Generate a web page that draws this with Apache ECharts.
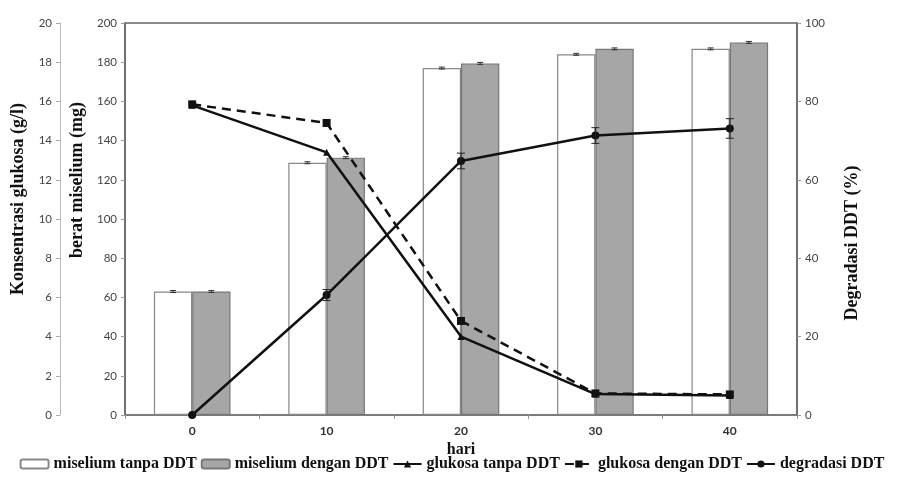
<!DOCTYPE html>
<html>
<head>
<meta charset="utf-8">
<script src="https://cdn.jsdelivr.net/npm/echarts@6/dist/echarts.min.js"></script>
<style>html,body{margin:0;padding:0;background:#fff}#c{width:904px;height:477px}</style>
</head>
<body>
<div id="c"></div>
<script>
var days = ['0', '10', '20', '30', '40'];
var miseliumTanpa = [63, 128.7, 177, 184, 186.8];
var miseliumDengan = [63, 131.3, 179.4, 186.8, 190.1];
var miseliumTanpaErr = [0.5, 0.5, 0.5, 0.5, 0.5];
var miseliumDenganErr = [0.5, 0.5, 0.5, 0.5, 0.5];
var glukosaTanpa = [15.8, 13.4, 4.0, 1.07, 1.0];
var glukosaDengan = [15.85, 14.9, 4.8, 1.1, 1.05];
var degradasi = [0, 30.6, 64.8, 71.3, 73.1];
var degradasiErr = [0, 1.4, 2.0, 2.0, 2.5];
var mgTicks = {min: 0, max: 200, interval: 20};
var gTicks = {min: 0, max: 20, interval: 2};
var pTicks = {min: 0, max: 100, interval: 20};

var serif = 'Liberation Serif';
var sans = 'Lato';
var catGap = 0.43;

function barErr(sign, vals, errs) {
  return {
    type: 'custom',
    yAxisIndex: 0,
    z: 5,
    silent: true,
    data: vals.map(function (v, i) { return [i, v, errs[i]]; }),
    renderItem: function (params, api) {
      var i = api.value(0), v = api.value(1), e = api.value(2);
      var band = api.size([1, 0])[0];
      var bw = band * (1 - catGap) / 2;
      var c = api.coord([i, v]);
      var x = c[0] + sign * bw / 2;
      var hi = api.coord([i, v + e])[1], lo = api.coord([i, v - e])[1];
      var st = {stroke: '#333', lineWidth: 1};
      return {type: 'group', children: [
        {type: 'line', shape: {x1: x, y1: hi, x2: x, y2: lo}, style: st},
        {type: 'line', shape: {x1: x - 3, y1: hi, x2: x + 3, y2: hi}, style: st},
        {type: 'line', shape: {x1: x - 3, y1: lo, x2: x + 3, y2: lo}, style: st}
      ]};
    }
  };
}

var titleStyle = {fontFamily: serif, fontWeight: 'bold', fontSize: 18, color: '#111'};

var chart = echarts.init(document.getElementById('c'));
chart.setOption({
  animation: false,
  backgroundColor: '#fff',
  grid: {left: 125, right: 107, top: 23, bottom: 62, show: true, borderColor: '#666', borderWidth: 1.5, backgroundColor: 'transparent'},
  legend: {
    bottom: 0, left: 'center', itemGap: 4, itemWidth: 28, itemHeight: 9,
    textStyle: {fontFamily: serif, fontWeight: 'bold', fontSize: 16, color: '#111'},
    data: ['miselium tanpa DDT', 'miselium dengan DDT', 'glukosa tanpa DDT', 'glukosa dengan DDT', 'degradasi DDT']
  },
  xAxis: {
    type: 'category', data: days,
    name: 'hari', nameLocation: 'middle', nameGap: 27,
    nameTextStyle: {fontFamily: serif, fontWeight: 'bold', fontSize: 16, color: '#111'},
    axisLine: {lineStyle: {color: '#777', width: 1.5}},
    axisTick: {show: true, length: 4, lineStyle: {color: '#999'}},
    axisLabel: {fontFamily: sans, fontWeight: 'bold', fontSize: 12, color: '#333', margin: 10}
  },
  yAxis: [
    {
      type: 'value', position: 'left', min: mgTicks.min, max: mgTicks.max, interval: mgTicks.interval,
      name: 'berat miselium (mg)', nameLocation: 'middle', nameGap: 36, nameRotate: 90,
      nameTextStyle: Object.assign({padding: [0, 0, 0, 78]}, titleStyle),
      splitLine: {show: false},
      axisLine: {show: true, lineStyle: {color: '#666', width: 1.5}},
      axisTick: {show: true, length: 4, lineStyle: {color: '#999'}},
      axisLabel: {fontFamily: sans, fontSize: 11.5, color: '#444', margin: 8}
    },
    {
      type: 'value', position: 'left', offset: 65, min: gTicks.min, max: gTicks.max, interval: gTicks.interval,
      name: 'Konsentrasi glukosa (g/l)', nameLocation: 'middle', nameGap: 30, nameRotate: 90,
      nameTextStyle: Object.assign({padding: [0, 0, 0, 40]}, titleStyle),
      splitLine: {show: false},
      axisLine: {show: true, lineStyle: {color: '#bbb', width: 1}},
      axisTick: {show: true, length: 4, lineStyle: {color: '#aaa'}},
      axisLabel: {fontFamily: sans, fontSize: 11.5, color: '#444', margin: 8}
    },
    {
      type: 'value', position: 'right', min: pTicks.min, max: pTicks.max, interval: pTicks.interval,
      name: 'Degradasi DDT (%)', nameLocation: 'middle', nameGap: 46, nameRotate: 90,
      nameTextStyle: Object.assign({padding: [0, 48, 0, 0]}, titleStyle),
      splitLine: {show: false},
      axisLine: {show: true, lineStyle: {color: '#666', width: 1.5}},
      axisTick: {show: true, length: 4, lineStyle: {color: '#999'}},
      axisLabel: {fontFamily: sans, fontSize: 11.5, color: '#444', margin: 8}
    }
  ],
  series: [
    {
      name: 'miselium tanpa DDT', type: 'bar', yAxisIndex: 0, data: miseliumTanpa,
      barGap: '0%', barCategoryGap: (catGap * 100) + '%',
      itemStyle: {color: '#ffffff', borderColor: '#888', borderWidth: 1.2}
    },
    {
      name: 'miselium dengan DDT', type: 'bar', yAxisIndex: 0, data: miseliumDengan,
      barGap: '0%', barCategoryGap: (catGap * 100) + '%',
      itemStyle: {color: '#a6a6a6', borderColor: '#777', borderWidth: 1.2}
    },
    barErr(-1, miseliumTanpa, miseliumTanpaErr),
    barErr(1, miseliumDengan, miseliumDenganErr),
    {
      name: 'glukosa tanpa DDT', type: 'line', yAxisIndex: 1, data: glukosaTanpa, z: 10,
      symbol: 'triangle', symbolSize: 7,
      lineStyle: {color: '#111', width: 2.5, type: 'solid'}, itemStyle: {color: '#111'}
    },
    {
      name: 'glukosa dengan DDT', type: 'line', yAxisIndex: 1, data: glukosaDengan, z: 10,
      symbol: 'rect', symbolSize: 8,
      lineStyle: {color: '#111', width: 2.5, type: [9, 6]}, itemStyle: {color: '#111'}
    },
    {
      name: 'degradasi DDT', type: 'line', yAxisIndex: 2, data: degradasi, z: 10,
      symbol: 'circle', symbolSize: 8,
      lineStyle: {color: '#111', width: 2.5}, itemStyle: {color: '#111'}
    },
    {
      type: 'custom', yAxisIndex: 2, z: 11, silent: true,
      data: degradasi.map(function (v, i) { return [i, v, degradasiErr[i]]; }),
      renderItem: function (params, api) {
        var i = api.value(0), v = api.value(1), e = api.value(2);
        if (!e) return null;
        var x = api.coord([i, v])[0];
        var hi = api.coord([i, v + e])[1], lo = api.coord([i, v - e])[1];
        var st = {stroke: '#222', lineWidth: 1};
        return {type: 'group', children: [
          {type: 'line', shape: {x1: x, y1: hi, x2: x, y2: lo}, style: st},
          {type: 'line', shape: {x1: x - 4, y1: hi, x2: x + 4, y2: hi}, style: st},
          {type: 'line', shape: {x1: x - 4, y1: lo, x2: x + 4, y2: lo}, style: st}
        ]};
      }
    }
  ]
});
</script>
</body>
</html>
